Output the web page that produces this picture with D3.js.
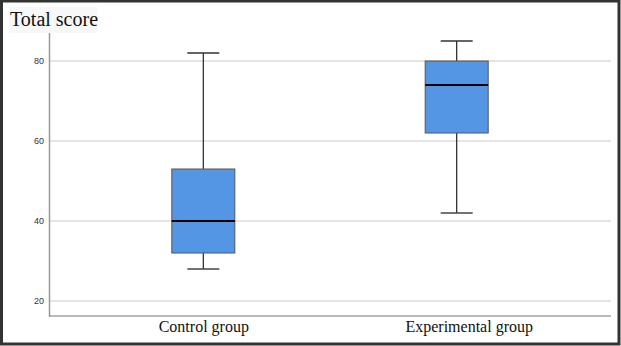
<!DOCTYPE html>
<html>
<head>
<meta charset="utf-8">
<script src="https://cdn.jsdelivr.net/npm/d3@7"></script>
<style>
  body { margin: 0; background: #fff; }
  svg { display: block; }
</style>
</head>
<body>
<script>
const width = 621;
const height = 346;

// data
const groups = ["Control group", "Experimental group"];
const mins = [28, 42];
const q1s = [32, 62];
const medians = [40, 74];
const q3s = [53, 80];
const maxs = [82, 85];
const y_ticks = [20, 40, 60, 80];

const x_range = [49, 611];
const y_range = [316, 15];
const serif = "'Liberation Serif', 'Times New Roman', serif";

let svg = d3.select("body")
    .append("svg")
    .attr("width", width)
    .attr("height", height);

// outer frame
svg.append("rect")
    .attr("x", 1.5).attr("y", 1)
    .attr("width", width - 3.5).attr("height", height - 3)
    .attr("fill", "white")
    .attr("stroke", "#333")
    .attr("stroke-width", 3);

let xScale = d3.scalePoint()
    .domain(groups)
    .range(x_range)
    .padding(0.609);

let yScale = d3.scaleLinear()
    .domain([16.25, 91.5])
    .range(y_range);

// gridlines
svg.selectAll(".grid")
    .data(y_ticks)
    .enter()
    .append("line")
    .attr("class", "grid")
    .attr("x1", x_range[0])
    .attr("x2", x_range[1])
    .attr("y1", d => yScale(d))
    .attr("y2", d => yScale(d))
    .attr("stroke", "#dcdcdc")
    .attr("stroke-width", 1.5);

// y axis
let y_axis = svg.append("g")
    .attr("transform", `translate(${x_range[0]},0)`)
    .call(d3.axisLeft(yScale).tickValues(y_ticks).tickSize(0).tickPadding(5));
y_axis.select(".domain")
    .attr("stroke", "#999")
    .attr("stroke-width", 1.5);
y_axis.selectAll(".tick text")
    .attr("font-family", "'Liberation Sans', Arial, sans-serif")
    .attr("font-size", 9)
    .attr("fill", "#333");

// x axis
let x_axis = svg.append("g")
    .attr("transform", `translate(0,${y_range[0]})`)
    .call(d3.axisBottom(xScale).tickSize(0).tickPadding(0));
x_axis.select(".domain")
    .attr("d", `M${x_range[0]},0H${x_range[1]}`)
    .attr("stroke", "#777")
    .attr("stroke-width", 1.2);
// the second label sits a little right of its box in the original
x_axis.selectAll(".tick text")
    .attr("font-family", serif)
    .attr("font-size", 16)
    .attr("fill", "#111")
    .attr("y", 16)
    .attr("dy", null)
    .attr("dx", (d, i) => i == 1 ? 12 : 0);

// boxes
const box_w = 63;
const cap_w = 32;
let boxes = svg.selectAll(".box")
    .data(groups)
    .enter()
    .append("g")
    .attr("class", "box")
    .attr("transform", d => `translate(${xScale(d)},0)`);

boxes.append("line")
    .attr("x1", 0).attr("x2", 0)
    .attr("y1", (d, i) => yScale(maxs[i]))
    .attr("y2", (d, i) => yScale(mins[i]))
    .attr("stroke", "#222")
    .attr("stroke-width", 1.2);

boxes.append("line")
    .attr("x1", -cap_w / 2).attr("x2", cap_w / 2)
    .attr("y1", (d, i) => yScale(maxs[i]))
    .attr("y2", (d, i) => yScale(maxs[i]))
    .attr("stroke", "#333")
    .attr("stroke-width", 1.5);

boxes.append("line")
    .attr("x1", -cap_w / 2).attr("x2", cap_w / 2)
    .attr("y1", (d, i) => yScale(mins[i]))
    .attr("y2", (d, i) => yScale(mins[i]))
    .attr("stroke", "#444")
    .attr("stroke-width", 1.5);

boxes.append("rect")
    .attr("x", -box_w / 2)
    .attr("width", box_w)
    .attr("y", (d, i) => yScale(q3s[i]))
    .attr("height", (d, i) => yScale(q1s[i]) - yScale(q3s[i]))
    .attr("fill", "#5596e4")
    .attr("stroke", "#555")
    .attr("stroke-width", 1);

boxes.append("line")
    .attr("x1", -box_w / 2).attr("x2", box_w / 2)
    .attr("y1", (d, i) => yScale(medians[i]))
    .attr("y2", (d, i) => yScale(medians[i]))
    .attr("stroke", "#000")
    .attr("stroke-width", 2);

// title
svg.append("rect")
    .attr("x", 9).attr("y", 7)
    .attr("width", 88).attr("height", 26)
    .attr("fill", "#f8f8f8");
svg.append("text")
    .attr("x", 10)
    .attr("y", 26)
    .attr("font-family", serif)
    .attr("font-size", 20)
    .attr("fill", "#111")
    .text("Total score");
</script>
</body>
</html>
